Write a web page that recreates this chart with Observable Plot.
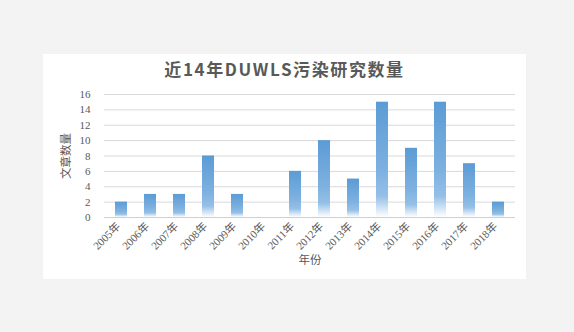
<!DOCTYPE html>
<html><head><meta charset="utf-8">
<script src="https://cdn.jsdelivr.net/npm/d3@7"></script>
<script src="https://cdn.jsdelivr.net/npm/@observablehq/plot@0.6"></script>
<style>
body{margin:0;background:#f3f3f3;width:574px;height:332px;overflow:hidden;}
#panel{position:absolute;left:43px;top:54px;width:483px;height:225px;background:#fff;}
#title{position:absolute;left:0;top:4px;width:483px;text-align:center;font-family:"Noto Sans CJK SC","Noto Sans",sans-serif;font-weight:bold;font-size:17px;color:#595959;letter-spacing:1.6px;line-height:22px;}
#chart{position:absolute;left:0;top:0;}
</style></head>
<body>
<div id="panel"><div id="chart"></div><div id="title">近14年DUWLS污染研究数量</div></div>
<script>
const years = ["2005年","2006年","2007年","2008年","2009年","2010年","2011年","2012年","2013年","2014年","2015年","2016年","2017年","2018年"];
const counts = [2,3,3,8,3,0,6,10,5,15,9,15,7,2];
const yTicks = [0,2,4,6,8,10,12,14,16];
const title = "近14年DUWLS污染研究数量";
const xLabel = "年份";
const yLabel = "文章数量";

const data = years.map((y,i)=>({year:y,count:counts[i]}));
const serif = '"Liberation Serif","DejaVu Serif","Noto Sans CJK SC",serif';
const sans = '"Noto Sans CJK SC","Noto Sans",sans-serif';

const plot = Plot.plot({
  width: 483, height: 225,
  marginLeft: 61, marginRight: 11, marginTop: 40, marginBottom: 62,
  style: {background: "transparent", color: "#595959", fontFamily: serif, fontSize: "11px"},
  x: {domain: years, paddingInner: 0.6, paddingOuter: 0.3},
  y: {domain: [0,16]},
  marks: [
    Plot.gridY(yTicks, {stroke: "#d9d9d9", strokeOpacity: 1}),
    Plot.ruleY([0], {stroke: "#d0d0d0"}),
    Plot.barY(data, {x: "year", y: "count", fill: "url(#barGrad)"}),
    Plot.axisY({ticks: yTicks, tickSize: 0, tickPadding: 14, label: yLabel, labelAnchor: "center", labelArrow: "none", labelOffset: 43, fontSize: 11}),
    Plot.axisX({tickSize: 0, tickRotate: -45, tickPadding: 7, dx: -3, label: xLabel, labelAnchor: "center", labelOffset: 46, fontSize: 11})
  ]
});
const ns = "http://www.w3.org/2000/svg";
const defs = document.createElementNS(ns, "defs");
defs.innerHTML = `<linearGradient id="barGrad" x1="0" y1="0" x2="0" y2="1">
<stop offset="0" stop-color="#5b9bd5"/>
<stop offset="0.6" stop-color="#7eb1e0"/>
<stop offset="0.82" stop-color="#95c0e7"/>
<stop offset="0.93" stop-color="#d5e6f5"/>
<stop offset="1" stop-color="#ffffff"/>
</linearGradient>`;
plot.insertBefore(defs, plot.firstChild);
plot.querySelectorAll("[aria-label$='axis label'] text, [aria-label$='axis label']").forEach(t=>{
  t.style.fontFamily = sans; t.style.fontSize = "11.5px";
});
document.getElementById("chart").appendChild(plot);
</script>
</body></html>
